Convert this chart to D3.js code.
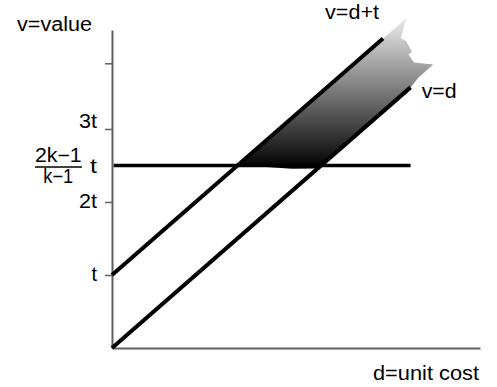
<!DOCTYPE html>
<html>
<head>
<meta charset="utf-8">
<script src="https://cdn.jsdelivr.net/npm/d3@7"></script>
<style>
  html, body { margin: 0; padding: 0; background: #fff; }
  svg { display: block; }
  text { font-family: "Liberation Sans", Arial, sans-serif; font-size: 19.5px; fill: #000; }
</style>
</head>
<body>
<svg id="chart" width="497" height="387"></svg>
<script>
// Value lines: v = d + offset, drawn from d = 0 up to dEnd
const lineNames   = ["v=d", "v=d+t"];
const lineOffsets = [0, 1];
const lineEnds    = [3.57, 3.24];

// Threshold level (2k-1)/(k-1) t with k = 3
const kValue = 3;
const thresholdLevel = (2 * kValue - 1) / (kValue - 1);
const thresholdEnd = 3.57;

// Y ticks (in units of t) and their labels
const yTickValues = [1, 2, 3, 3.9];
const yTickLabels = ["t", "2t", "3t", ""];

// Torn upper edge of the shaded band, as [d, v] pairs
const tornEdge = [
  [3.523, 4.523], [3.452, 4.242], [3.515, 4.205], [3.587, 4.059],
  [3.545, 4.021], [3.611, 3.911], [3.841, 3.884], [3.659, 3.699]
];
// Slight smear under the threshold line, as [d, v] pairs
const smearEdge = [[2.45, 2.46], [2.15, 2.455], [1.85, 2.48]];

const svg = d3.select("#chart");

const x = d3.scaleLinear().domain([0, 4.4]).range([112, 480]);
const y = d3.scaleLinear().domain([0, 4.356]).range([348, 30]);

// Gradient for the shaded band between the two lines
const defs = svg.append("defs");
const grad = defs.append("linearGradient")
  .attr("id", "bandGrad")
  .attr("gradientUnits", "userSpaceOnUse")
  .attr("x1", 0).attr("y1", y(thresholdLevel))
  .attr("x2", 0).attr("y2", y(4.45));
grad.append("stop").attr("offset", 0).attr("stop-color", "#050505");
grad.append("stop").attr("offset", 1).attr("stop-color", "#e4e4e4");

// Band: from the threshold up between v=d+t and v=d, with a torn top
const lo = thresholdLevel;
const bandPts = [
  [lo - lineOffsets[1], lo],
  ...tornEdge,
  [lineEnds[0], lineEnds[0]],
  [lo - lineOffsets[0], lo],
  ...smearEdge
];
svg.append("path")
  .attr("d", d3.line().x(p => x(p[0])).y(p => y(p[1])).curve(d3.curveLinearClosed)(bandPts))
  .attr("fill", "url(#bandGrad)");

// Axes
const yAxis = d3.axisLeft(y)
  .tickValues(yTickValues)
  .tickSize(7)
  .tickSizeOuter(0)
  .tickFormat("");
const yAxisG = svg.append("g").attr("transform", `translate(${x(0)},0)`).call(yAxis);
yAxisG.select(".domain").attr("stroke", "#606060").attr("stroke-width", 2);
yAxisG.selectAll(".tick line").attr("stroke", "#606060").attr("stroke-width", 1.5);

const xAxis = d3.axisBottom(x).tickValues([]).tickSizeOuter(0);
const xAxisG = svg.append("g").attr("transform", `translate(0,${y(0)})`).call(xAxis);
xAxisG.select(".domain").attr("stroke", "#606060").attr("stroke-width", 2);

// Threshold line
svg.append("line")
  .attr("x1", x(0.02)).attr("x2", x(thresholdEnd))
  .attr("y1", y(thresholdLevel)).attr("y2", y(thresholdLevel))
  .attr("stroke", "#000").attr("stroke-width", 3.6);

// Value lines
lineOffsets.forEach((off, i) => {
  svg.append("path")
    .attr("d", d3.line().x(p => x(p[0])).y(p => y(p[1]))([[0, off], [lineEnds[i], lineEnds[i] + off]]))
    .attr("stroke", "#000").attr("stroke-width", 4).attr("fill", "none");
});

// Stretched text helper
function label(txt, px, py, w) {
  return svg.append("text").attr("x", px).attr("y", py)
    .attr("textLength", w).attr("lengthAdjust", "spacingAndGlyphs").text(txt);
}

// Y tick labels
const tickLabelDy = [6.5, 6.5, -1];
const tickLabelW = [5.5, 18, 18];
yTickLabels.forEach((t, i) => {
  if (!t) return;
  label(t, x(0) - 15 - tickLabelW[i], y(yTickValues[i]) + tickLabelDy[i], tickLabelW[i]);
});

// Threshold label: (2k-1)/(k-1) t
const ty = y(thresholdLevel);
label("2k\u22121", 35, ty - 3.5, 46.7);
svg.append("line").attr("x1", 35).attr("x2", 82)
  .attr("y1", ty + 1.5).attr("y2", ty + 1.5)
  .attr("stroke", "#000").attr("stroke-width", 1.3);
label("k\u22121", 43.3, ty + 18, 30);
label("t", 90, ty + 8, 7);

// Axis titles and line labels
label("v=value", 17, 31, 75);
label("d=unit cost", 373, 380, 106);
label(lineNames[1], 325, 18.5, 54);
label(lineNames[0], 421.7, 97.7, 35);
</script>
</body>
</html>
